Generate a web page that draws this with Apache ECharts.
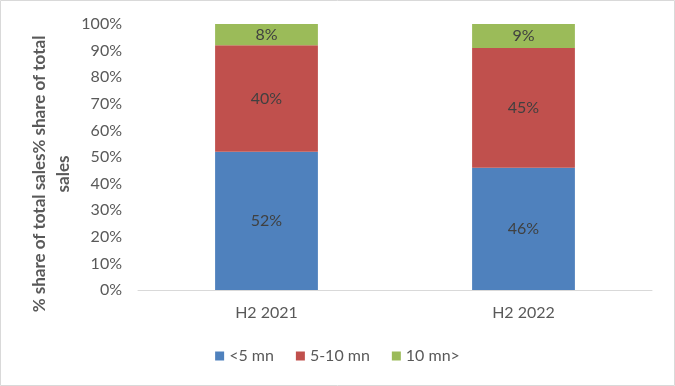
<!DOCTYPE html>
<html><head><meta charset="utf-8">
<script src="https://cdn.jsdelivr.net/npm/echarts@6/dist/echarts.min.js"></script>
<style>html,body{margin:0;padding:0;background:#fff}#c{width:675px;height:386px}</style>
</head><body><div id="c"></div>
<script>
const categories = ['H2 2021', 'H2 2022'];
const under5 = [52, 46];
const from5to10 = [40, 45];
const over10 = [8, 9];
const seriesNames = ['<5 mn', '5-10 mn', '10 mn>'];
const yTicks = [0, 10, 20, 30, 40, 50, 60, 70, 80, 90, 100];
const yTitle = '% share of total sales% share of total\nsales';

const font = 'Lato, "Open Sans", sans-serif';
const chart = echarts.init(document.getElementById('c'));
const lbl = {show: true, position: 'inside', formatter: p => p.value + '%', color: '#404040', fontSize: 16, fontFamily: font};
chart.setOption({
  animation: false,
  graphic: [
    {type: 'rect', shape: {x: 0.5, y: 0.5, width: 674, height: 385}, style: {fill: 'none', stroke: '#d9d9d9', lineWidth: 1}},
    {type: 'text', x: 52, y: 174, rotation: Math.PI / 2,
     style: {text: yTitle, fill: '#595959', fontSize: 17, fontWeight: 'bold', fontFamily: font, lineHeight: 24, align: 'center', verticalAlign: 'middle'}}
  ],
  grid: {left: 138, right: 23, top: 24, bottom: 96},
  legend: {
    bottom: 17, left: 'center', itemWidth: 9, itemHeight: 9, itemGap: 22,
    icon: 'rect',
    textStyle: {color: '#595959', fontSize: 16, fontFamily: font},
    data: seriesNames
  },
  xAxis: {
    type: 'category', data: categories,
    axisLine: {lineStyle: {color: '#d9d9d9'}},
    axisTick: {show: false},
    axisLabel: {color: '#595959', fontSize: 16, fontFamily: font, margin: 15}
  },
  yAxis: {
    type: 'value', min: yTicks[0], max: yTicks[yTicks.length - 1], interval: 10,
    axisLine: {show: false}, axisTick: {show: false},
    splitLine: {show: false},
    axisLabel: {color: '#595959', fontSize: 16, fontFamily: font, margin: 16, formatter: v => v + '%'}
  },
  series: [
    {name: seriesNames[0], type: 'bar', stack: 's', data: under5, barWidth: '40%', itemStyle: {color: '#4f81bd'}, label: lbl},
    {name: seriesNames[1], type: 'bar', stack: 's', data: from5to10, itemStyle: {color: '#c0504d'}, label: lbl},
    {name: seriesNames[2], type: 'bar', stack: 's', data: over10, itemStyle: {color: '#9bbb59'}, label: lbl}
  ]
});
</script></body></html>
